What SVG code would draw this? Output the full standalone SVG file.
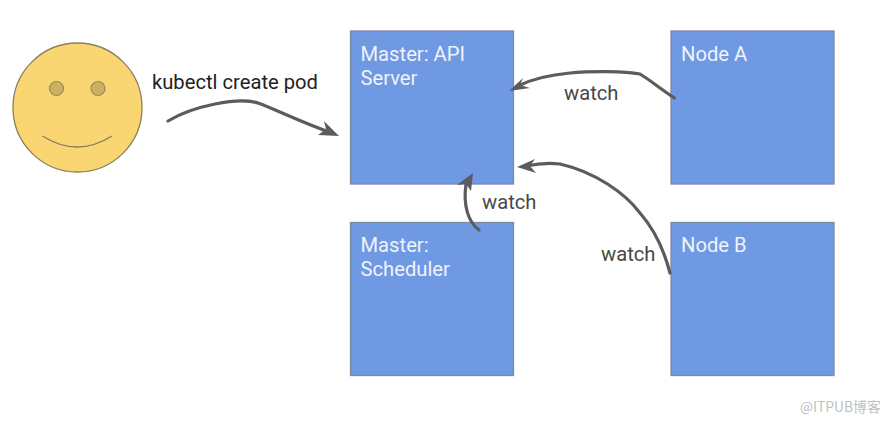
<svg xmlns="http://www.w3.org/2000/svg" width="890" height="422" viewBox="0 0 890 422">
<style>
.box{fill:#7099e3;stroke:#7d8ba0;stroke-width:1.300}
.nt{font:20.200px Roboto,"Liberation Sans",sans-serif;fill:#eef3fb}
.lb{font:20.200px Roboto,"Liberation Sans",sans-serif;fill:#484848}
.c{fill:none;stroke:#5c5c5c;stroke-width:3.200;stroke-linecap:round}
.h{fill:#5c5c5c;stroke:none}
</style>
<rect width="890" height="422" fill="#fff"/>
<g id="user">
<circle cx="77.500" cy="107.500" r="64.500" fill="#fad672" stroke="#8a7e5e" stroke-width="1.300"/>
<circle cx="56.500" cy="88.500" r="7" fill="#cdb060" stroke="#948a5e" stroke-width="1.200"/>
<circle cx="98" cy="88.500" r="7" fill="#cdb060" stroke="#948a5e" stroke-width="1.200"/>
<path d="M42.500 136Q77 158 112 136" fill="none" stroke="#867c5a" stroke-width="1.300"/>
</g>
<g id="master-api">
<rect class="box" x="350.500" y="31" width="163" height="153"/>
<text class="nt" x="360.500" y="61">Master: API</text>
<text class="nt" x="360.500" y="85">Server</text>
</g>
<g id="master-scheduler">
<rect class="box" x="350.500" y="222.500" width="163" height="153"/>
<text class="nt" x="360.500" y="252">Master:</text>
<text class="nt" x="360.500" y="276">Scheduler</text>
</g>
<g id="node-a">
<rect class="box" x="671" y="31" width="163" height="153"/>
<text class="nt" x="681" y="61">Node A</text>
</g>
<g id="node-b">
<rect class="box" x="671" y="222.500" width="163" height="153"/>
<text class="nt" x="681" y="252">Node B</text>
</g>
<g id="connectors">
<path class="c" d="M168 121C183 112 200 107 215 104C230 101 245 99 258 103C275 109 300 122 332 133"/>
<path class="h" d="M339 136L318 135L326 129L324 121Z"/>
<path class="c" d="M674.500 98C662 90 650 80 640 74C625 71 590 71 570 73C548 75 532 79 518 86"/>
<path class="h" d="M509 91L523 78L520 85L530 88Z"/>
<path class="c" d="M670 273C664 250 655 230 640 213C625 193 595 172 560 164Q545 162 526 166"/>
<path class="h" d="M517 167L535 159L530 166L536 173Z"/>
<path class="c" d="M479 230C468 222 463 205 466 184"/>
<path class="h" d="M473 173L471 191L466 184L457 185Z"/>
</g>
<g id="labels">
<text x="152" y="89" style="font:20.200px Roboto,'Liberation Sans',sans-serif;fill:#222">kubectl create pod</text>
<text class="lb" x="564" y="100">watch</text>
<text class="lb" x="482" y="209">watch</text>
<text class="lb" x="601" y="261">watch</text>
<text x="800" y="412" style="font:13.800px 'Noto Sans CJK SC','Noto Sans',sans-serif;fill:#c0c0c0">@ITPUB博客</text>
</g>
</svg>
